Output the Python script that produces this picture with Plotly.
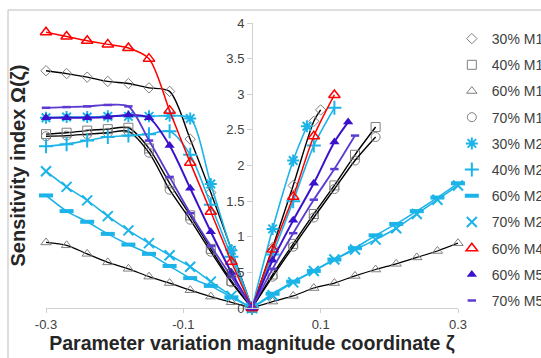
import plotly.graph_objects as go

# ---------------- data ----------------
series_names = ["30% M1", "40% M1", "60% M1", "70% M1", "30% M2", "40% M2",
                "60% M2", "70% M2", "60% M4", "60% M5", "70% M5"]

x_left = [-0.3, -0.27, -0.24, -0.21, -0.18, -0.15, -0.12, -0.09, -0.06, -0.03, 0.0]

m1_30_left = [3.33, 3.29, 3.24, 3.18, 3.15, 3.09, 3.04, 2.37, 1.62, 0.82, 0]
m1_40_left = [2.44, 2.46, 2.49, 2.51, 2.53, 2.24, 1.75, 1.30, 0.83, 0.38, 0]
m1_60_left = [0.92, 0.88, 0.76, 0.64, 0.55, 0.44, 0.35, 0.25, 0.16, 0.08, 0]
m1_70_left = [2.41, 2.42, 2.44, 2.46, 2.48, 2.18, 1.66, 1.24, 0.79, 0.36, 0]
m2_30_left = [2.67, 2.68, 2.68, 2.69, 2.69, 2.69, 2.70, 2.66, 1.74, 0.81, 0]
m2_40_left = [2.27, 2.30, 2.35, 2.40, 2.42, 2.44, 2.48, 2.15, 1.45, 0.72, 0]
m2_60_left = [1.58, 1.36, 1.21, 1.04, 0.89, 0.76, 0.59, 0.42, 0.31, 0.15, 0]
m2_70_left = [1.92, 1.70, 1.51, 1.29, 1.09, 0.91, 0.74, 0.58, 0.37, 0.17, 0]
m4_60_left = [3.87, 3.81, 3.75, 3.70, 3.65, 3.50, 2.77, 2.04, 1.35, 0.65, 0]
m5_60_left = [2.67, 2.67, 2.67, 2.68, 2.71, 2.67, 2.28, 1.68, 1.07, 0.50, 0]
m5_70_left = [2.81, 2.82, 2.83, 2.85, 2.83, 2.35, 1.84, 1.33, 0.87, 0.44, 0]

m1_30_right_x = [0, 0.03, 0.06, 0.09, 0.1]
m1_30_right = [0, 0.85, 1.72, 2.62, 2.78]
m1_40_right_x = [0, 0.03, 0.06, 0.09, 0.12, 0.15, 0.18]
m1_40_right = [0, 0.47, 0.90, 1.32, 1.72, 2.15, 2.54]
m1_60_right_x = [0, 0.03, 0.06, 0.09, 0.12, 0.15, 0.18, 0.21, 0.24, 0.27, 0.3]
m1_60_right = [0, 0.09, 0.17, 0.28, 0.35, 0.45, 0.54, 0.62, 0.71, 0.80, 0.91]
m1_70_right_x = [0, 0.03, 0.06, 0.09, 0.12, 0.15, 0.18]
m1_70_right = [0, 0.44, 0.86, 1.27, 1.67, 2.07, 2.40]
m2_30_right_x = [0, 0.03, 0.06, 0.08]
m2_30_right = [0, 1.11, 2.07, 2.55]
m2_40_right_x = [0, 0.03, 0.06, 0.09, 0.12]
m2_40_right = [0, 0.75, 1.50, 2.28, 2.81]
m2_60_right_x = [0, 0.03, 0.06, 0.09, 0.12, 0.15, 0.18, 0.21, 0.24, 0.27, 0.3]
m2_60_right = [0, 0.20, 0.37, 0.52, 0.68, 0.84, 1.02, 1.18, 1.36, 1.55, 1.75]
m2_70_right_x = [0, 0.03, 0.06, 0.09, 0.12, 0.15, 0.18, 0.21, 0.24, 0.27, 0.3]
m2_70_right = [0, 0.18, 0.36, 0.52, 0.68, 0.82, 0.96, 1.12, 1.32, 1.52, 1.72]
m4_60_right_x = [0, 0.03, 0.06, 0.09, 0.12]
m4_60_right = [0, 0.82, 1.56, 2.41, 2.99]
m5_60_right_x = [0, 0.03, 0.06, 0.09, 0.12, 0.14]
m5_60_right = [0, 0.67, 1.23, 1.75, 2.33, 2.61]
m5_70_right_x = [0, 0.03, 0.06, 0.09, 0.12, 0.15]
m5_70_right = [0, 0.55, 1.05, 1.52, 1.95, 2.42]

x_tick_vals = [-0.3, -0.1, 0.1, 0.3]
x_tick_text = ["-0.3", "-0.1", "0.1", "0.3"]
y_tick_vals = [0, 0.5, 1, 1.5, 2, 2.5, 3, 3.5, 4]
y_tick_text = ["0", "0.5", "1", "1.5", "2", "2.5", "3", "3.5", "4"]

# ---------------- styles ----------------
GRAY = "#7f7f7f"
CYAN = "#1CB4E8"
RED = "#FF0000"
BLUE = "#3A12CC"
VIOLET = "#5B3BD0"

lefts = [m1_30_left, m1_40_left, m1_60_left, m1_70_left, m2_30_left, m2_40_left,
         m2_60_left, m2_70_left, m4_60_left, m5_60_left, m5_70_left]
rights_x = [m1_30_right_x, m1_40_right_x, m1_60_right_x, m1_70_right_x, m2_30_right_x,
            m2_40_right_x, m2_60_right_x, m2_70_right_x, m4_60_right_x, m5_60_right_x,
            m5_70_right_x]
rights = [m1_30_right, m1_40_right, m1_60_right, m1_70_right, m2_30_right, m2_40_right,
          m2_60_right, m2_70_right, m4_60_right, m5_60_right, m5_70_right]

styles = [
    dict(lc="black", lw=1.4, sym="diamond-open", mc=GRAY, ms=8, mw=1),
    dict(lc="black", lw=1.4, sym="square-open", mc=GRAY, ms=9, mw=1),
    dict(lc="black", lw=1.2, sym="triangle-up-open", mc=GRAY, ms=9, mw=1),
    dict(lc="black", lw=1.4, sym="circle-open", mc=GRAY, ms=9, mw=1),
    dict(lc=CYAN, lw=1.6, sym="asterisk-open", mc=CYAN, ms=10, mw=2),
    dict(lc=CYAN, lw=1.6, sym="cross-thin-open", mc=CYAN, ms=10, mw=2),
    dict(lc=CYAN, lw=1.6, sym="line-ew-open", mc=CYAN, ms=10, mw=4),
    dict(lc=CYAN, lw=1.6, sym="x-thin-open", mc=CYAN, ms=10, mw=2),
    dict(lc=RED, lw=1.5, sym="triangle-up-open", mc=RED, ms=10, mw=1.5),
    dict(lc=BLUE, lw=2, sym="triangle-up", mc=BLUE, ms=9, mw=0),
    dict(lc=VIOLET, lw=1.8, sym="line-ew-open", mc=VIOLET, ms=6, mw=2.5),
]

fig = go.Figure()
for name, yl, xr, yr, st in zip(series_names, lefts, rights_x, rights, styles):
    for xs, ys in ((x_left, yl), (xr, yr)):
        fig.add_trace(go.Scatter(
            x=xs, y=ys, mode="lines", legendgroup=name, showlegend=False,
            line=dict(color=st["lc"], width=st["lw"], shape="spline", smoothing=0.8),
            hoverinfo="skip"))
    mk = dict(symbol=st["sym"], color=st["mc"], size=st["ms"],
              line=dict(color=st["mc"], width=st["mw"]))
    fig.add_trace(go.Scatter(
        x=list(x_left) + list(xr), y=list(yl) + list(yr), mode="markers",
        name=name, legendgroup=name, marker=mk, cliponaxis=False))

axis_col = "#d0d0d0"
tick_font = dict(family="Liberation Sans, Arial, sans-serif", size=13, color="#404040")

fig.update_layout(
    width=541, height=358,
    margin=dict(l=46, r=83, t=23, b=50, autoexpand=False),
    paper_bgcolor="white", plot_bgcolor="white",
    font=dict(family="Liberation Sans, Arial, sans-serif"),
    showlegend=True,
    legend=dict(x=0.985, y=1.0, xanchor="left", yanchor="top",
                font=dict(size=14, color="#404040"), tracegroupgap=5,
                bgcolor="rgba(0,0,0,0)", traceorder="grouped"),
    xaxis=dict(range=[-0.3, 0.3], tickvals=x_tick_vals, ticktext=x_tick_text,
               showline=True, linecolor=axis_col, linewidth=1, ticks="outside",
               ticklen=4, tickcolor=axis_col, showgrid=False, zeroline=False,
               tickfont=tick_font,
               title=dict(text="<b>Parameter variation magnitude coordinate ζ</b>",
                          font=dict(size=19.5, color="#262626"), standoff=5)),
    yaxis=dict(range=[0, 4], tickvals=y_tick_vals, ticktext=y_tick_text,
               anchor="free", position=0.5,
               showline=True, linecolor=axis_col, linewidth=1, ticks="outside",
               ticklen=5, tickcolor=axis_col, showgrid=False, zeroline=False,
               tickfont=tick_font),
    annotations=[dict(text="<b>Sensitivity index Ω(ζ)</b>", xref="paper", yref="paper",
                      x=-0.068, y=0.5, textangle=-90, showarrow=False,
                      xanchor="center", yanchor="middle",
                      font=dict(size=20, color="#262626"))],
    shapes=[dict(type="rect", xref="paper", yref="paper", x0=-0.0922, x1=1.3,
                 y0=-0.3, y1=1.0456, line=dict(color="#bdbdbd", width=1),
                 fillcolor="rgba(0,0,0,0)", layer="above")],
)

fig.write_html("out.html", config={"displayModeBar": False},
               post_script="document.body.style.margin='0';document.body.style.overflow='hidden';")
